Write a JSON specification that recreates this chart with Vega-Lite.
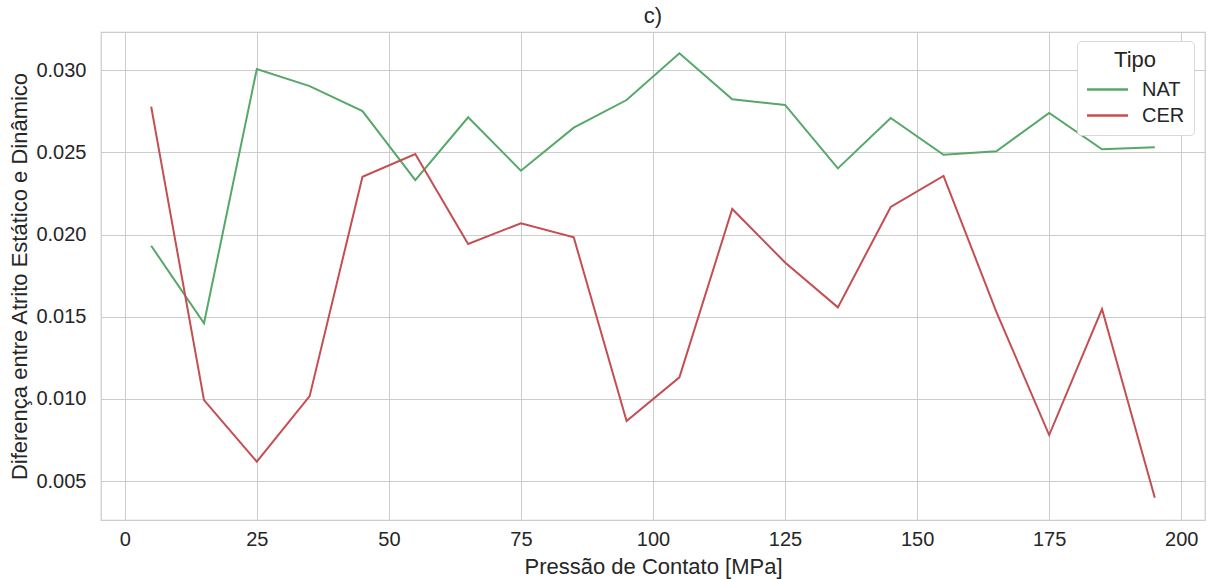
{
  "$schema": "https://vega.github.io/schema/vega-lite/v6.json",
  "width": 1104,
  "height": 488,
  "autosize": "none",
  "padding": {"left": 101, "top": 32, "right": 4, "bottom": 59},
  "background": "white",
  "title": {"text": "c)", "fontSize": 22, "font": "Liberation Sans", "fontWeight": "normal", "color": "#262626", "offset": 4, "anchor": "middle"},
  "config": {
    "view": {"stroke": "#cccccc", "strokeWidth": 1.25},
    "font": "Liberation Sans",
    "axis": {"domain": false, "ticks": false, "gridColor": "#cccccc", "gridWidth": 1, "labelColor": "#262626", "titleColor": "#262626", "labelFont": "Liberation Sans", "titleFont": "Liberation Sans", "titleFontWeight": "normal", "labelFontSize": 20, "titleFontSize": 22}
  },
  "data": {
    "values": [
      {"p": 5, "d": 0.01932, "Tipo": "NAT"},
      {"p": 15, "d": 0.0146, "Tipo": "NAT"},
      {"p": 25, "d": 0.03008, "Tipo": "NAT"},
      {"p": 35, "d": 0.02904, "Tipo": "NAT"},
      {"p": 45, "d": 0.02752, "Tipo": "NAT"},
      {"p": 55, "d": 0.02332, "Tipo": "NAT"},
      {"p": 65, "d": 0.02714, "Tipo": "NAT"},
      {"p": 75, "d": 0.02389, "Tipo": "NAT"},
      {"p": 85, "d": 0.02651, "Tipo": "NAT"},
      {"p": 95, "d": 0.02819, "Tipo": "NAT"},
      {"p": 105, "d": 0.03103, "Tipo": "NAT"},
      {"p": 115, "d": 0.02823, "Tipo": "NAT"},
      {"p": 125, "d": 0.02789, "Tipo": "NAT"},
      {"p": 135, "d": 0.02403, "Tipo": "NAT"},
      {"p": 145, "d": 0.0271, "Tipo": "NAT"},
      {"p": 155, "d": 0.02486, "Tipo": "NAT"},
      {"p": 165, "d": 0.02507, "Tipo": "NAT"},
      {"p": 175, "d": 0.0274, "Tipo": "NAT"},
      {"p": 185, "d": 0.02519, "Tipo": "NAT"},
      {"p": 195, "d": 0.02531, "Tipo": "NAT"},
      {"p": 5, "d": 0.02779, "Tipo": "CER"},
      {"p": 15, "d": 0.00993, "Tipo": "CER"},
      {"p": 25, "d": 0.00618, "Tipo": "CER"},
      {"p": 35, "d": 0.01017, "Tipo": "CER"},
      {"p": 45, "d": 0.02352, "Tipo": "CER"},
      {"p": 55, "d": 0.0249, "Tipo": "CER"},
      {"p": 65, "d": 0.01943, "Tipo": "CER"},
      {"p": 75, "d": 0.02069, "Tipo": "CER"},
      {"p": 85, "d": 0.01983, "Tipo": "CER"},
      {"p": 95, "d": 0.00865, "Tipo": "CER"},
      {"p": 105, "d": 0.01131, "Tipo": "CER"},
      {"p": 115, "d": 0.02156, "Tipo": "CER"},
      {"p": 125, "d": 0.01830, "Tipo": "CER"},
      {"p": 135, "d": 0.01557, "Tipo": "CER"},
      {"p": 145, "d": 0.02168, "Tipo": "CER"},
      {"p": 155, "d": 0.02357, "Tipo": "CER"},
      {"p": 165, "d": 0.0153, "Tipo": "CER"},
      {"p": 175, "d": 0.0078, "Tipo": "CER"},
      {"p": 185, "d": 0.01547, "Tipo": "CER"},
      {"p": 195, "d": 0.00398, "Tipo": "CER"}
    ]
  },
  "mark": {"type": "line", "strokeWidth": 2},
  "encoding": {
    "x": {"field": "p", "type": "quantitative", "scale": {"domain": [-4.5, 204.5], "nice": false, "zero": false},
      "axis": {"values": [0, 25, 50, 75, 100, 125, 150, 175, 200], "title": "Pressão de Contato [MPa]", "labelPadding": 9, "titlePadding": 7}},
    "y": {"field": "d", "type": "quantitative", "scale": {"domain": [0.00263, 0.03233], "nice": false, "zero": false},
      "axis": {"values": [0.005, 0.01, 0.015, 0.02, 0.025, 0.03], "format": ".3f", "title": "Diferença entre Atrito Estático e Dinâmico", "labelPadding": 15, "titlePadding": 4}},
    "color": {"field": "Tipo", "type": "nominal", "scale": {"domain": ["NAT", "CER"], "range": ["#55a868", "#c44e52"]},
      "legend": {"orient": "none", "legendX": 976, "legendY": 9, "symbolType": "M-2,0H2", "symbolSize": 420, "symbolStrokeWidth": 2.5, "symbolOffset": 10,
        "titleFontSize": 22, "titleFontWeight": "normal", "titleColor": "#262626", "titleAnchor": "middle", "titleFont": "Liberation Sans",
        "labelFontSize": 20, "labelColor": "#262626", "labelFont": "Liberation Sans", "labelOffset": 23,
        "strokeColor": "#d9d9d9", "fillColor": "white", "cornerRadius": 4, "padding": 9, "rowPadding": 4, "titlePadding": 6}}
  }
}
